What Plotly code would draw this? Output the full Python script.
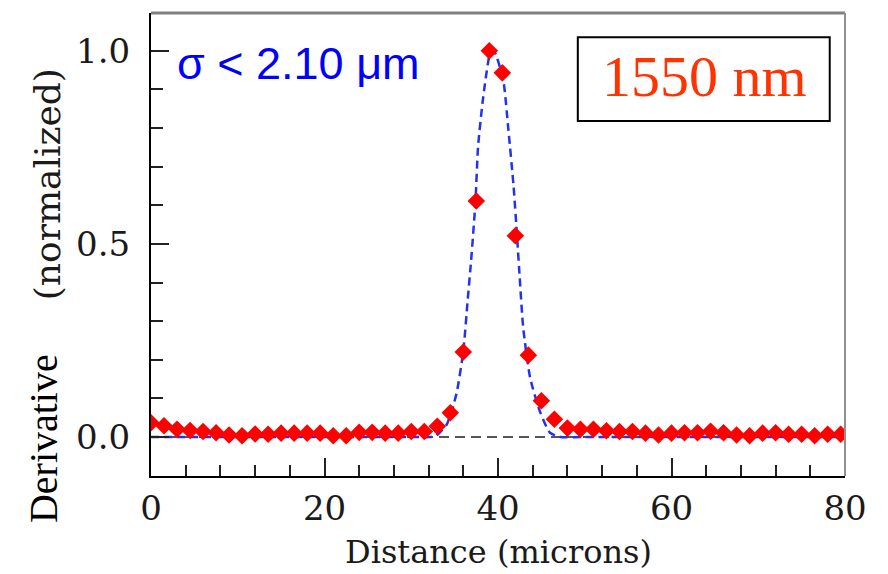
import plotly.graph_objects as go

# Measured derivative points (normalized)
distance = [i * 1.5 for i in range(54)]
derivative = [0.037, 0.029, 0.020, 0.017, 0.014, 0.011, 0.005, 0.003, 0.008, 0.007,
               0.010, 0.010, 0.010, 0.010, 0.003, 0.003, 0.012, 0.012, 0.010, 0.010,
               0.014, 0.014, 0.028, 0.063, 0.220, 0.611, 1.000, 0.943, 0.521, 0.212,
               0.094, 0.046, 0.023, 0.020, 0.020, 0.016, 0.014, 0.014, 0.010, 0.005,
               0.010, 0.011, 0.011, 0.015, 0.011, 0.005, 0.003, 0.010, 0.011, 0.007,
               0.007, 0.003, 0.007, 0.007]

# Gaussian fit curve
fit_x = [0, 30, 32.2, 32.9, 34.1, 35.2, 36.0, 36.5, 36.9, 37.4, 37.7, 38.3, 39.1,
         39.35, 39.65, 40.6, 41.2, 41.8, 42.2, 42.5, 42.9, 43.7, 44.8, 46.0, 47.2, 50, 80]
fit_y = [0, 0, 0.0, 0.004, 0.033, 0.111, 0.223, 0.353, 0.457, 0.609, 0.751, 0.881, 0.995,
         1.0, 0.995, 0.925, 0.795, 0.648, 0.518, 0.414, 0.284, 0.154, 0.068, 0.011, 0.0, 0, 0]

x_ticks = [0, 20, 40, 60, 80]
y_ticks = [0.0, 0.5, 1.0]
y_tick_text = ["0.0", "0.5", "1.0"]

fig = go.Figure()

fig.add_trace(go.Scatter(x=[0, 80], y=[0, 0], mode="lines",
                         line=dict(color="#555555", width=2, dash="10px,6px"),
                         hoverinfo="skip", showlegend=False))
fig.add_trace(go.Scatter(x=fit_x, y=fit_y, mode="lines",
                         line=dict(color="#2233ee", width=2.5, dash="8px,5px", shape="spline", smoothing=0.6),
                         showlegend=False))
fig.add_trace(go.Scatter(x=distance, y=derivative, mode="markers",
                         marker=dict(symbol="diamond", size=13.5, color="#ff0000",
                                     line=dict(width=0)),
                         showlegend=False))

tick_font = dict(family="DejaVu Serif", size=34, color="#1a1a1a")

def ann(text, x, y, font, angle=0):
    return dict(text=text, xref="paper", yref="paper", x=x, y=y, xanchor="center",
                yanchor="middle", showarrow=False, textangle=angle, font=font)

fig.update_layout(
    width=888, height=574, autosize=False,
    margin=dict(l=151, r=43, t=13, b=98),
    paper_bgcolor="white", plot_bgcolor="white",
    xaxis=dict(range=[0, 80], tickvals=x_ticks, ticks="inside", ticklen=18, tickwidth=2,
               tickcolor="#222", showline=True, linecolor="black", linewidth=2,
               showgrid=False, zeroline=False, tickfont=tick_font, ticklabelstandoff=1,
               minor=dict(dtick=4, ticks="inside", ticklen=11, tickwidth=2, tickcolor="#222", showgrid=False)),
    yaxis=dict(range=[-0.101, 1.098], tickvals=y_ticks, ticktext=y_tick_text, ticks="inside",
               ticklen=18, tickwidth=2, tickcolor="#222", showline=True, linecolor="black",
               linewidth=2, showgrid=False, zeroline=False, tickfont=tick_font,
               ticklabelstandoff=12,
               minor=dict(dtick=0.1, tick0=0, ticks="inside", ticklen=12, tickwidth=2, tickcolor="#222", showgrid=False)),
    shapes=[
        dict(type="line", xref="paper", yref="paper", x0=0, x1=1, y0=1, y1=1,
             line=dict(color="#808080", width=3)),
        dict(type="line", xref="paper", yref="paper", x0=1, x1=1, y0=0, y1=1,
             line=dict(color="#909090", width=2)),
        dict(type="rect", xref="paper", yref="paper", x0=0.615, x1=0.978, y0=0.767, y1=0.9475,
             line=dict(color="black", width=2), fillcolor="white"),
    ],
    annotations=[
        ann("σ < 2.10 μm", 0.213, 0.890, dict(family="Liberation Sans", size=45, color="#0000ff")),
        ann("1550 nm", 0.797, 0.863, dict(family="Liberation Serif", size=58, color="#ff3300")),
        ann("Distance (microns)", 0.5, -0.164, dict(family="DejaVu Serif", size=32, color="#1a1a1a")),
        ann("(normalized)", -0.150, 0.630, dict(family="DejaVu Serif", size=36, color="#1a1a1a"), -90),
        ann("Derivative", -0.154, 0.08, dict(family="Liberation Serif", size=40, color="black"), -90),
    ],
)

fig.write_html("out.html")
